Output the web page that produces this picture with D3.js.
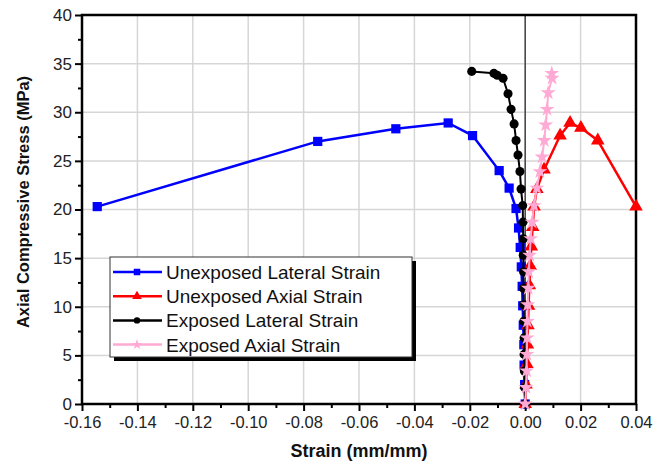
<!DOCTYPE html>
<html>
<head>
<meta charset="utf-8">
<script src="https://cdn.jsdelivr.net/npm/d3@7"></script>
<style>
  body { margin: 0; background: #fff; }
  svg { display: block; font-family: Arial, "Liberation Sans", sans-serif; }
</style>
</head>
<body>
<svg id="chart" width="665" height="463"></svg>
<script>
// series data (strain mm/mm, stress MPa)
var seriesNames = ["Unexposed Lateral Strain", "Unexposed Axial Strain", "Exposed Lateral Strain", "Exposed Axial Strain"];

var unexpLatStrain = [0, -0.0002, -0.0004, -0.0005, -0.0007, -0.0009, -0.0011, -0.0014, -0.0018, -0.0024, -0.0033, -0.0058, -0.0094, -0.019, -0.0278, -0.0467, -0.0749, -0.1545];
var unexpLatStress = [0, 2.0, 4.0, 6.1, 8.1, 10.1, 12.1, 14.1, 16.1, 18.1, 20.1, 22.2, 24.0, 27.6, 28.9, 28.3, 27.0, 20.3];

var unexpAxStrain = [0, 0.0003, 0.0006, 0.0008, 0.0010, 0.0012, 0.0015, 0.0018, 0.0022, 0.0027, 0.0032, 0.0042, 0.0068, 0.0126, 0.0162, 0.0201, 0.0262, 0.040];
var unexpAxStress = [0, 2.0, 4.1, 6.1, 8.1, 10.1, 12.2, 14.2, 16.2, 18.2, 20.3, 22.1, 24.1, 27.6, 28.9, 28.4, 27.1, 20.3];

var expLatStrain = [0, -0.0002, -0.0003, -0.0004, -0.0004, -0.0005, -0.0005, -0.0006, -0.0006, -0.0007, -0.0007, -0.0008, -0.0009, -0.0015, -0.0019, -0.0026, -0.0033, -0.004, -0.0051, -0.0062, -0.008, -0.0101, -0.0113, -0.0193];
var expLatStress = [0, 1.7, 3.4, 5.1, 6.8, 8.5, 10.2, 11.9, 13.6, 15.3, 17.0, 18.7, 20.4, 22.1, 23.9, 25.6, 27.1, 28.8, 30.3, 31.9, 33.5, 33.8, 34.0, 34.2];

var expAxStrain = [0, 0.0003, 0.0005, 0.0006, 0.0007, 0.0008, 0.0009, 0.0011, 0.0013, 0.0016, 0.0020, 0.0025, 0.0032, 0.0042, 0.0053, 0.0061, 0.0069, 0.0074, 0.0079, 0.0083, 0.0097, 0.0096];
var expAxStress = [0, 1.7, 3.4, 5.1, 6.8, 8.5, 10.2, 11.9, 13.6, 15.3, 17.0, 18.7, 20.4, 22.2, 23.9, 25.4, 27.1, 28.7, 30.3, 32.0, 33.5, 34.0];

var xTicks = [-0.16, -0.14, -0.12, -0.10, -0.08, -0.06, -0.04, -0.02, 0.00, 0.02, 0.04];
var yTicks = [0, 5, 10, 15, 20, 25, 30, 35, 40];

var svg = d3.select("#chart");
var plotL = 82, plotR = 636, plotT = 15, plotB = 404;

var x = d3.scaleLinear().domain([-0.16, 0.04]).range([plotL, plotR]);
var y = d3.scaleLinear().domain([0, 40]).range([plotB, plotT]);

// grid
svg.append("g").selectAll("line").data(xTicks.slice(1, -1)).enter().append("line")
  .attr("x1", function(d) { return x(d); }).attr("x2", function(d) { return x(d); })
  .attr("y1", plotT).attr("y2", plotB)
  .attr("stroke", "#d6d6d6").attr("stroke-width", 1.5);
svg.append("g").selectAll("line").data(yTicks.slice(1, -1)).enter().append("line")
  .attr("x1", plotL).attr("x2", plotR)
  .attr("y1", function(d) { return y(d); }).attr("y2", function(d) { return y(d); })
  .attr("stroke", "#d6d6d6").attr("stroke-width", 1.5);

// zero line
svg.append("line")
  .attr("x1", x(0)).attr("x2", x(0)).attr("y1", plotT).attr("y2", plotB)
  .attr("stroke", "#444").attr("stroke-width", 1.5);

// axes
var xAxis = d3.axisBottom(x).tickValues(xTicks).tickFormat(d3.format(".2f")).tickSize(7).tickPadding(5);
var xMinor = d3.axisBottom(x).tickValues(d3.range(-0.15, 0.04, 0.02)).tickFormat("").tickSize(4);
var yAxis = d3.axisLeft(y).tickValues(yTicks).tickFormat(d3.format("d")).tickSize(7).tickPadding(3);
var yMinor = d3.axisLeft(y).tickValues(d3.range(2.5, 40, 5)).tickFormat("").tickSize(4);

function styleAxis(g, size) {
  g.select(".domain").remove();
  g.selectAll("line").attr("stroke", "#000").attr("stroke-width", 2);
  g.selectAll("text").attr("font-size", size).attr("fill", "#222")
    .attr("font-family", "Arial, 'Liberation Sans', sans-serif");
}

svg.append("g").attr("transform", "translate(0," + plotB + ")").call(xAxis).call(styleAxis, 16.5)
  .selectAll("text").text(function(d) { return d3.format(".2f")(d).replace("−", "-"); });
svg.append("g").attr("transform", "translate(0," + plotB + ")").call(xMinor).call(styleAxis, 16);
svg.append("g").attr("transform", "translate(" + plotL + ",0)").call(yAxis).call(styleAxis, 17);
svg.append("g").attr("transform", "translate(" + plotL + ",0)").call(yMinor).call(styleAxis, 16);

// frame
svg.append("rect")
  .attr("x", plotL).attr("y", plotT).attr("width", plotR - plotL).attr("height", plotB - plotT)
  .attr("fill", "none").attr("stroke", "#000").attr("stroke-width", 2.5);

// axis titles
svg.append("text")
  .attr("x", (plotL + plotR) / 2).attr("y", 457)
  .attr("text-anchor", "middle").attr("font-size", 18).attr("font-weight", "bold").attr("fill", "#111")
  .text("Strain (mm/mm)");
svg.append("text")
  .attr("transform", "translate(29,202) rotate(-90)")
  .attr("text-anchor", "middle").attr("font-size", 16.5).attr("font-weight", "bold").attr("fill", "#111")
  .text("Axial Compressive Stress (MPa)");

// series
var series = [
  { xs: unexpLatStrain, ys: unexpLatStress, color: "#0000ff", sym: d3.symbolSquare, size: 85, width: 2.5 },
  { xs: unexpAxStrain, ys: unexpAxStress, color: "#ff0000", sym: d3.symbolTriangle, size: 80, width: 2.5 },
  { xs: expLatStrain, ys: expLatStress, color: "#000000", sym: d3.symbolCircle, size: 65, width: 2 },
  { xs: expAxStrain, ys: expAxStress, color: "#ffaad4", sym: d3.symbolStar, size: 70, width: 2 }
];

var line = d3.line().x(function(d) { return x(d[0]); }).y(function(d) { return y(d[1]); });

series.forEach(function(s) {
  var pts = d3.zip(s.xs, s.ys);
  var g = svg.append("g");
  g.append("path").datum(pts).attr("d", line)
    .attr("fill", "none").attr("stroke", s.color).attr("stroke-width", s.width);
  g.selectAll("path.pt").data(pts).enter().append("path")
    .attr("class", "pt")
    .attr("transform", function(d) { return "translate(" + x(d[0]) + "," + y(d[1]) + ")"; })
    .attr("d", d3.symbol().type(s.sym).size(s.size))
    .attr("fill", s.color);
});

// legend
var lg = svg.append("g");
lg.append("rect").attr("x", 114).attr("y", 261).attr("width", 302).attr("height", 100).attr("fill", "#000");
lg.append("rect").attr("x", 110).attr("y", 257).attr("width", 302).attr("height", 100)
  .attr("fill", "#fff").attr("stroke", "#333").attr("stroke-width", 1);

seriesNames.forEach(function(name, i) {
  var s = series[i];
  var cy = 272 + i * 24.2;
  lg.append("line").attr("x1", 113).attr("x2", 162).attr("y1", cy).attr("y2", cy)
    .attr("stroke", s.color).attr("stroke-width", 2.5);
  lg.append("path").attr("transform", "translate(137," + cy + ")")
    .attr("d", d3.symbol().type(s.sym).size(s.size * 0.5)).attr("fill", s.color);
  lg.append("text").attr("x", 166).attr("y", cy + 7)
    .attr("font-size", 19).attr("fill", "#111").text(name);
});
</script>
</body>
</html>
